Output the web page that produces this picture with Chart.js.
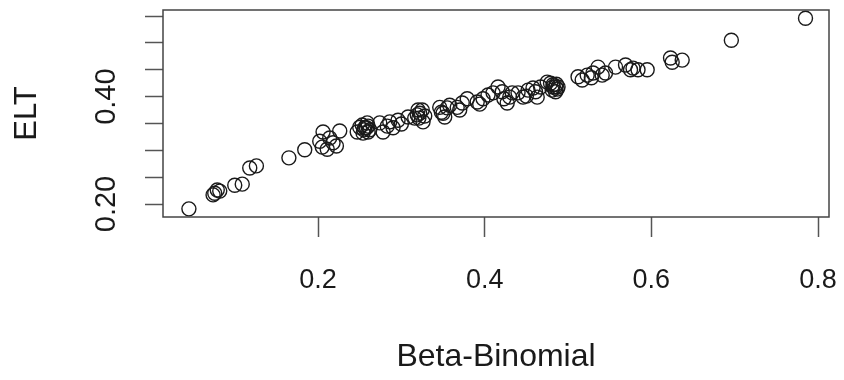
<!DOCTYPE html>
<html lang="en">
<head>
<meta charset="UTF-8">
<title>ELT vs Beta-Binomial</title>
<script src="https://cdn.jsdelivr.net/npm/chart.js@4.4.3/dist/chart.umd.min.js"></script>
<style>
    * { margin: 0; padding: 0; }
    body { background: #fff; }
    #chart { display: block; }
</style>
</head>
<body>
<canvas id="chart" width="844" height="380"></canvas>
<script>
    // values
    const betaBinomial = [
        0.045, 0.076, 0.082, 0.074, 0.079, 0.100, 0.109, 0.118, 0.126, 0.165,
        0.184, 0.205, 0.202, 0.206, 0.214, 0.218, 0.226, 0.222, 0.211,
        0.250, 0.256, 0.262, 0.254, 0.259, 0.247, 0.253, 0.260, 0.258, 0.260, 0.255,
        0.274, 0.286, 0.290, 0.278, 0.296, 0.308, 0.316, 0.320, 0.283, 0.300,
        0.319, 0.325, 0.326, 0.322, 0.321, 0.328,
        0.350, 0.346, 0.355, 0.358, 0.352, 0.348,
        0.367, 0.373, 0.379, 0.370, 0.391, 0.398, 0.404, 0.410, 0.394,
        0.416, 0.421, 0.427, 0.430, 0.423, 0.433,
        0.440, 0.446, 0.452, 0.458, 0.463, 0.461, 0.467, 0.450,
        0.482, 0.475, 0.488, 0.485, 0.479, 0.486, 0.481, 0.485, 0.487, 0.482,
        0.512, 0.517, 0.523, 0.530, 0.536, 0.541, 0.545, 0.528,
        0.557, 0.569, 0.575, 0.578, 0.584, 0.595,
        0.623, 0.625, 0.637, 0.696, 0.785
    ];
    const elt = [
        0.191, 0.220, 0.224, 0.217, 0.226, 0.235, 0.237, 0.267, 0.271, 0.286,
        0.301, 0.306, 0.317, 0.334, 0.323, 0.314, 0.336, 0.308, 0.302,
        0.343, 0.342, 0.338, 0.332, 0.351, 0.334, 0.347, 0.334, 0.342, 0.345, 0.338,
        0.351, 0.353, 0.342, 0.334, 0.356, 0.362, 0.360, 0.375, 0.345, 0.349,
        0.366, 0.375, 0.353, 0.369, 0.360, 0.364,
        0.369, 0.380, 0.379, 0.384, 0.362, 0.371,
        0.380, 0.388, 0.396, 0.375, 0.390, 0.396, 0.403, 0.407, 0.386,
        0.418, 0.409, 0.388, 0.399, 0.396, 0.407,
        0.407, 0.399, 0.412, 0.416, 0.399, 0.409, 0.418, 0.401,
        0.418, 0.427, 0.418, 0.409, 0.425, 0.423, 0.412, 0.418, 0.414, 0.422,
        0.437, 0.431, 0.440, 0.444, 0.455, 0.440, 0.444, 0.435,
        0.455, 0.459, 0.450, 0.453, 0.450, 0.450,
        0.472, 0.464, 0.468, 0.505, 0.546
    ];
    const xTicks = [0.2, 0.4, 0.6, 0.8];
    const yTicks = [0.20, 0.25, 0.30, 0.35, 0.40, 0.45, 0.50, 0.55];
    const yLabelled = [0.20, 0.40];

    const FONT = "'Liberation Sans', Arial, Helvetica, sans-serif";
    const INK = '#1a1a1a';

    // R style box round the plot region
    const boxPlugin = {
        id: 'box',
        afterDatasetsDraw(chart) {
            const { ctx, chartArea: a } = chart;
            ctx.save();
            ctx.strokeStyle = '#444';
            ctx.lineWidth = 1.5;
            ctx.strokeRect(a.left, a.top, a.right - a.left, a.bottom - a.top);
            ctx.restore();
        }
    };

    new Chart(document.getElementById('chart'), {
        type: 'scatter',
        data: {
            datasets: [{
                data: betaBinomial.map((x, i) => ({ x: x, y: elt[i] })),
                pointStyle: 'circle',
                pointRadius: 7,
                pointBorderWidth: 1.4,
                pointBorderColor: INK,
                pointBackgroundColor: 'rgba(0,0,0,0)'
            }]
        },
        options: {
            responsive: false,
            animation: false,
            layout: { padding: { top: 10, right: 15, left: 0, bottom: 0 } },
            plugins: {
                legend: { display: false },
                tooltip: { enabled: false }
            },
            scales: {
                x: {
                    type: 'linear',
                    min: 0.0139,
                    max: 0.8132,
                    afterBuildTicks: s => { s.ticks = xTicks.map(v => ({ value: v })); },
                    afterFit: s => {
                        s.height = 163;
                        s.paddingLeft = 0;
                        s.paddingRight = 0;
                    },
                    border: { display: false },
                    grid: {
                        drawOnChartArea: false,
                        tickLength: 20,
                        tickColor: '#555',
                        tickWidth: 1.5
                    },
                    ticks: {
                        autoSkip: false,
                        maxRotation: 0,
                        padding: 27,
                        color: INK,
                        font: { family: FONT, size: 27 },
                        callback: v => v.toFixed(1)
                    },
                    title: {
                        display: true,
                        text: 'Beta-Binomial',
                        color: INK,
                        font: { family: FONT, size: 32 },
                        padding: { top: 0, bottom: 4 }
                    }
                },
                y: {
                    type: 'linear',
                    min: 0.1758,
                    max: 0.5613,
                    afterBuildTicks: s => { s.ticks = yTicks.map(v => ({ value: v })); },
                    afterFit: s => {
                        s.width = 163;
                        s.paddingTop = 0;
                        s.paddingBottom = 0;
                    },
                    border: { display: false },
                    grid: {
                        drawOnChartArea: false,
                        tickLength: 18,
                        tickColor: '#555',
                        tickWidth: 1.5
                    },
                    ticks: {
                        autoSkip: false,
                        minRotation: 90,
                        maxRotation: 90,
                        crossAlign: 'center',
                        padding: 10,
                        color: INK,
                        font: { family: FONT, size: 29 },
                        callback: v => yLabelled.some(l => Math.abs(l - v) < 1e-9) ? v.toFixed(2) : ''
                    },
                    title: {
                        display: true,
                        text: 'ELT',
                        color: INK,
                        font: { family: FONT, size: 31 },
                        padding: { top: 9, bottom: 0 }
                    }
                }
            }
        },
        plugins: [boxPlugin]
    });
</script>
</body>
</html>
